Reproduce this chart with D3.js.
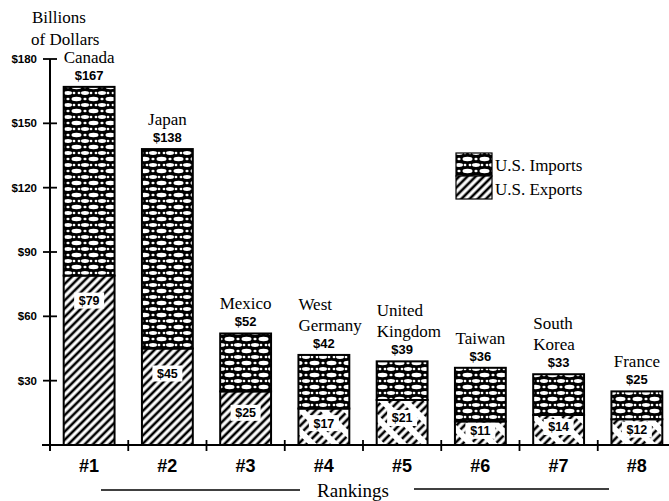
<!DOCTYPE html>
<html>
<head>
<meta charset="utf-8">
<script src="https://cdn.jsdelivr.net/npm/d3@7"></script>
<style>
  body { margin: 0; background: #fff; }
  .serif { font-family: "Liberation Serif", "Times New Roman", serif; }
  .sans { font-family: "Liberation Sans", Arial, sans-serif; font-weight: bold; }
</style>
</head>
<body>
<div id="plot"></div>
<script>
// data (billions of dollars)
var ranks = ["#1", "#2", "#3", "#4", "#5", "#6", "#7", "#8"];
var countries = [["Canada"], ["Japan"], ["Mexico"], ["West", "Germany"], ["United", "Kingdom"],
                 ["Taiwan"], ["South", "Korea"], ["France"]];
var totals = [167, 138, 52, 42, 39, 36, 33, 25];
var usExports = [79, 45, 25, 17, 21, 11, 14, 12];
var yTicks = [30, 60, 90, 120, 150, 180];

var width = 669, height = 501;

var svg = d3.select("#plot")
  .append("svg")
  .attr("width", width)
  .attr("height", height);

var defs = svg.append("defs");

// lace-like pattern for imports: black with white blobs
var lace = defs.append("pattern")
  .attr("id", "lace")
  .attr("patternUnits", "userSpaceOnUse")
  .attr("width", 17)
  .attr("height", 12);
lace.append("rect").attr("width", 17).attr("height", 12).attr("fill", "#000");
[[8.5, 3, 5, 2.2], [0, 9, 4, 1.9], [17, 9, 4, 1.9], [0, 3, 1.6, 1.3], [17, 3, 1.6, 1.3],
 [6, 9, 1.4, 1.2], [11, 9, 1.4, 1.2]].forEach(e => {
  lace.append("ellipse")
    .attr("cx", e[0]).attr("cy", e[1]).attr("rx", e[2]).attr("ry", e[3])
    .attr("fill", "#fff");
});

// diagonal hatch for exports, a solid and a broken one
var makeHatch = function (id, dash) {
  var p = defs.append("pattern")
    .attr("id", id)
    .attr("patternUnits", "userSpaceOnUse")
    .attr("width", 5.8)
    .attr("height", 16)
    .attr("patternTransform", "rotate(45)");
  p.append("rect").attr("width", 5.8).attr("height", 16).attr("fill", "#fff");
  p.append("line")
    .attr("x1", 2.9).attr("x2", 2.9).attr("y1", 0).attr("y2", 16)
    .attr("stroke", "#000")
    .attr("stroke-width", 2.6)
    .attr("stroke-dasharray", dash);
};
makeHatch("hatch", null);
makeHatch("hatch-broken", "10 6");

var x0 = 50, y0 = 445;

var xScale = d3.scaleBand()
  .domain(ranks)
  .range([x0, x0 + 8 * 78.25])
  .paddingInner(0.35)
  .paddingOuter(0.175);

var yScale = d3.scaleLinear()
  .domain([0, 180])
  .range([y0, 59]);

// y axis
var yAxis = svg.append("g");
yAxis.append("line")
  .attr("x1", x0).attr("x2", x0)
  .attr("y1", yScale(180)).attr("y2", y0 + 6)
  .attr("stroke", "#000").attr("stroke-width", 2);
yAxis.selectAll(".ytick")
  .data(yTicks)
  .enter()
  .append("line")
    .attr("x1", x0 - 7).attr("x2", x0 + 7)
    .attr("y1", d => yScale(d)).attr("y2", d => yScale(d))
    .attr("stroke", "#000").attr("stroke-width", 1.8);
yAxis.selectAll(".ylab")
  .data(yTicks)
  .enter()
  .append("text")
    .attr("class", "sans")
    .attr("x", 37)
    .attr("y", d => yScale(d) + 4)
    .attr("text-anchor", "end")
    .style("font-size", "11.5px")
    .text(d => "$" + d);

svg.append("text").attr("class", "serif")
  .attr("x", 32).attr("y", 23).style("font-size", "17px").text("Billions");
svg.append("text").attr("class", "serif")
  .attr("x", 31).attr("y", 45).style("font-size", "17px").text("of Dollars");

// x axis
svg.append("line")
  .attr("x1", 42).attr("x2", width)
  .attr("y1", y0).attr("y2", y0)
  .attr("stroke", "#000").attr("stroke-width", 2);
svg.selectAll(".xtick")
  .data(d3.range(9))
  .enter()
  .append("line")
    .attr("x1", i => x0 + i * xScale.step())
    .attr("x2", i => x0 + i * xScale.step())
    .attr("y1", y0 - 5).attr("y2", y0 + 6)
    .attr("stroke", "#000").attr("stroke-width", 1.8);

svg.selectAll(".rank")
  .data(ranks)
  .enter()
  .append("text")
    .attr("class", "sans")
    .attr("x", d => xScale(d) + xScale.bandwidth() / 2)
    .attr("y", 472)
    .attr("text-anchor", "middle")
    .style("font-size", "18px")
    .text(d => d);

svg.append("text").attr("class", "serif")
  .attr("x", 353).attr("y", 497)
  .attr("text-anchor", "middle")
  .style("font-size", "19px")
  .text("Rankings");
svg.append("line").attr("x1", 101).attr("x2", 300).attr("y1", 490).attr("y2", 490)
  .attr("stroke", "#000").attr("stroke-width", 1.5);
svg.append("line").attr("x1", 414).attr("x2", 609).attr("y1", 489).attr("y2", 489)
  .attr("stroke", "#000").attr("stroke-width", 1.5);

// bars
var bars = svg.selectAll(".bar")
  .data(ranks)
  .enter()
  .append("g")
    .attr("class", "bar");

bars.append("rect")
  .attr("x", d => xScale(d))
  .attr("width", xScale.bandwidth())
  .attr("y", (d, i) => yScale(usExports[i]))
  .attr("height", (d, i) => y0 - yScale(usExports[i]))
  .attr("fill", (d, i) => i < 3 ? "url(#hatch)" : "url(#hatch-broken)")
  .attr("stroke", "#000").attr("stroke-width", 2);

bars.append("rect")
  .attr("x", d => xScale(d))
  .attr("width", xScale.bandwidth())
  .attr("y", (d, i) => yScale(totals[i]))
  .attr("height", (d, i) => yScale(usExports[i]) - yScale(totals[i]))
  .attr("fill", "url(#lace)")
  .attr("stroke", "#000").attr("stroke-width", 2);

// export values on a white patch
var expLabelY = function (i) {
  var top = yScale(usExports[i]);
  var h = y0 - top;
  return top + Math.min(25, 0.4 * h);
};
bars.append("rect")
  .attr("x", d => xScale(d) + xScale.bandwidth() / 2 - 15)
  .attr("y", (d, i) => expLabelY(i) - 8)
  .attr("width", 30)
  .attr("height", 16)
  .attr("fill", "#fff");
bars.append("text")
  .attr("class", "sans")
  .attr("x", d => xScale(d) + xScale.bandwidth() / 2)
  .attr("y", (d, i) => expLabelY(i) + 4.5)
  .attr("text-anchor", "middle")
  .style("font-size", "12.5px")
  .text((d, i) => "$" + usExports[i]);

// totals and country names
bars.append("text")
  .attr("class", "sans")
  .attr("x", d => xScale(d) + xScale.bandwidth() / 2)
  .attr("y", (d, i) => yScale(totals[i]) - 7)
  .attr("text-anchor", "middle")
  .style("font-size", "13px")
  .text((d, i) => "$" + totals[i]);

bars.each(function (d, i) {
  var lines = countries[i];
  var g = d3.select(this);
  var base = yScale(totals[i]) - 24;
  lines.forEach((ln, j) => {
    var two = lines.length > 1;
    g.append("text")
      .attr("class", "serif")
      .attr("x", two ? xScale(d) : xScale(d) + xScale.bandwidth() / 2)
      .attr("y", base - (lines.length - 1 - j) * 21)
      .attr("text-anchor", two ? "start" : "middle")
      .style("font-size", "17px")
      .text(ln);
  });
});

// legend
var legend = svg.append("g");
legend.append("rect")
  .attr("x", 456).attr("y", 153).attr("width", 36).attr("height", 23)
  .attr("fill", "url(#lace)").attr("stroke", "#000").attr("stroke-width", 1.2);
legend.append("rect")
  .attr("x", 456).attr("y", 176).attr("width", 36).attr("height", 23)
  .attr("fill", "url(#hatch)").attr("stroke", "#000").attr("stroke-width", 1.2);
legend.append("text").attr("class", "serif")
  .attr("x", 495).attr("y", 171).style("font-size", "17px").text("U.S. Imports");
legend.append("text").attr("class", "serif")
  .attr("x", 495).attr("y", 195).style("font-size", "17px").text("U.S. Exports");
</script>
</body>
</html>
